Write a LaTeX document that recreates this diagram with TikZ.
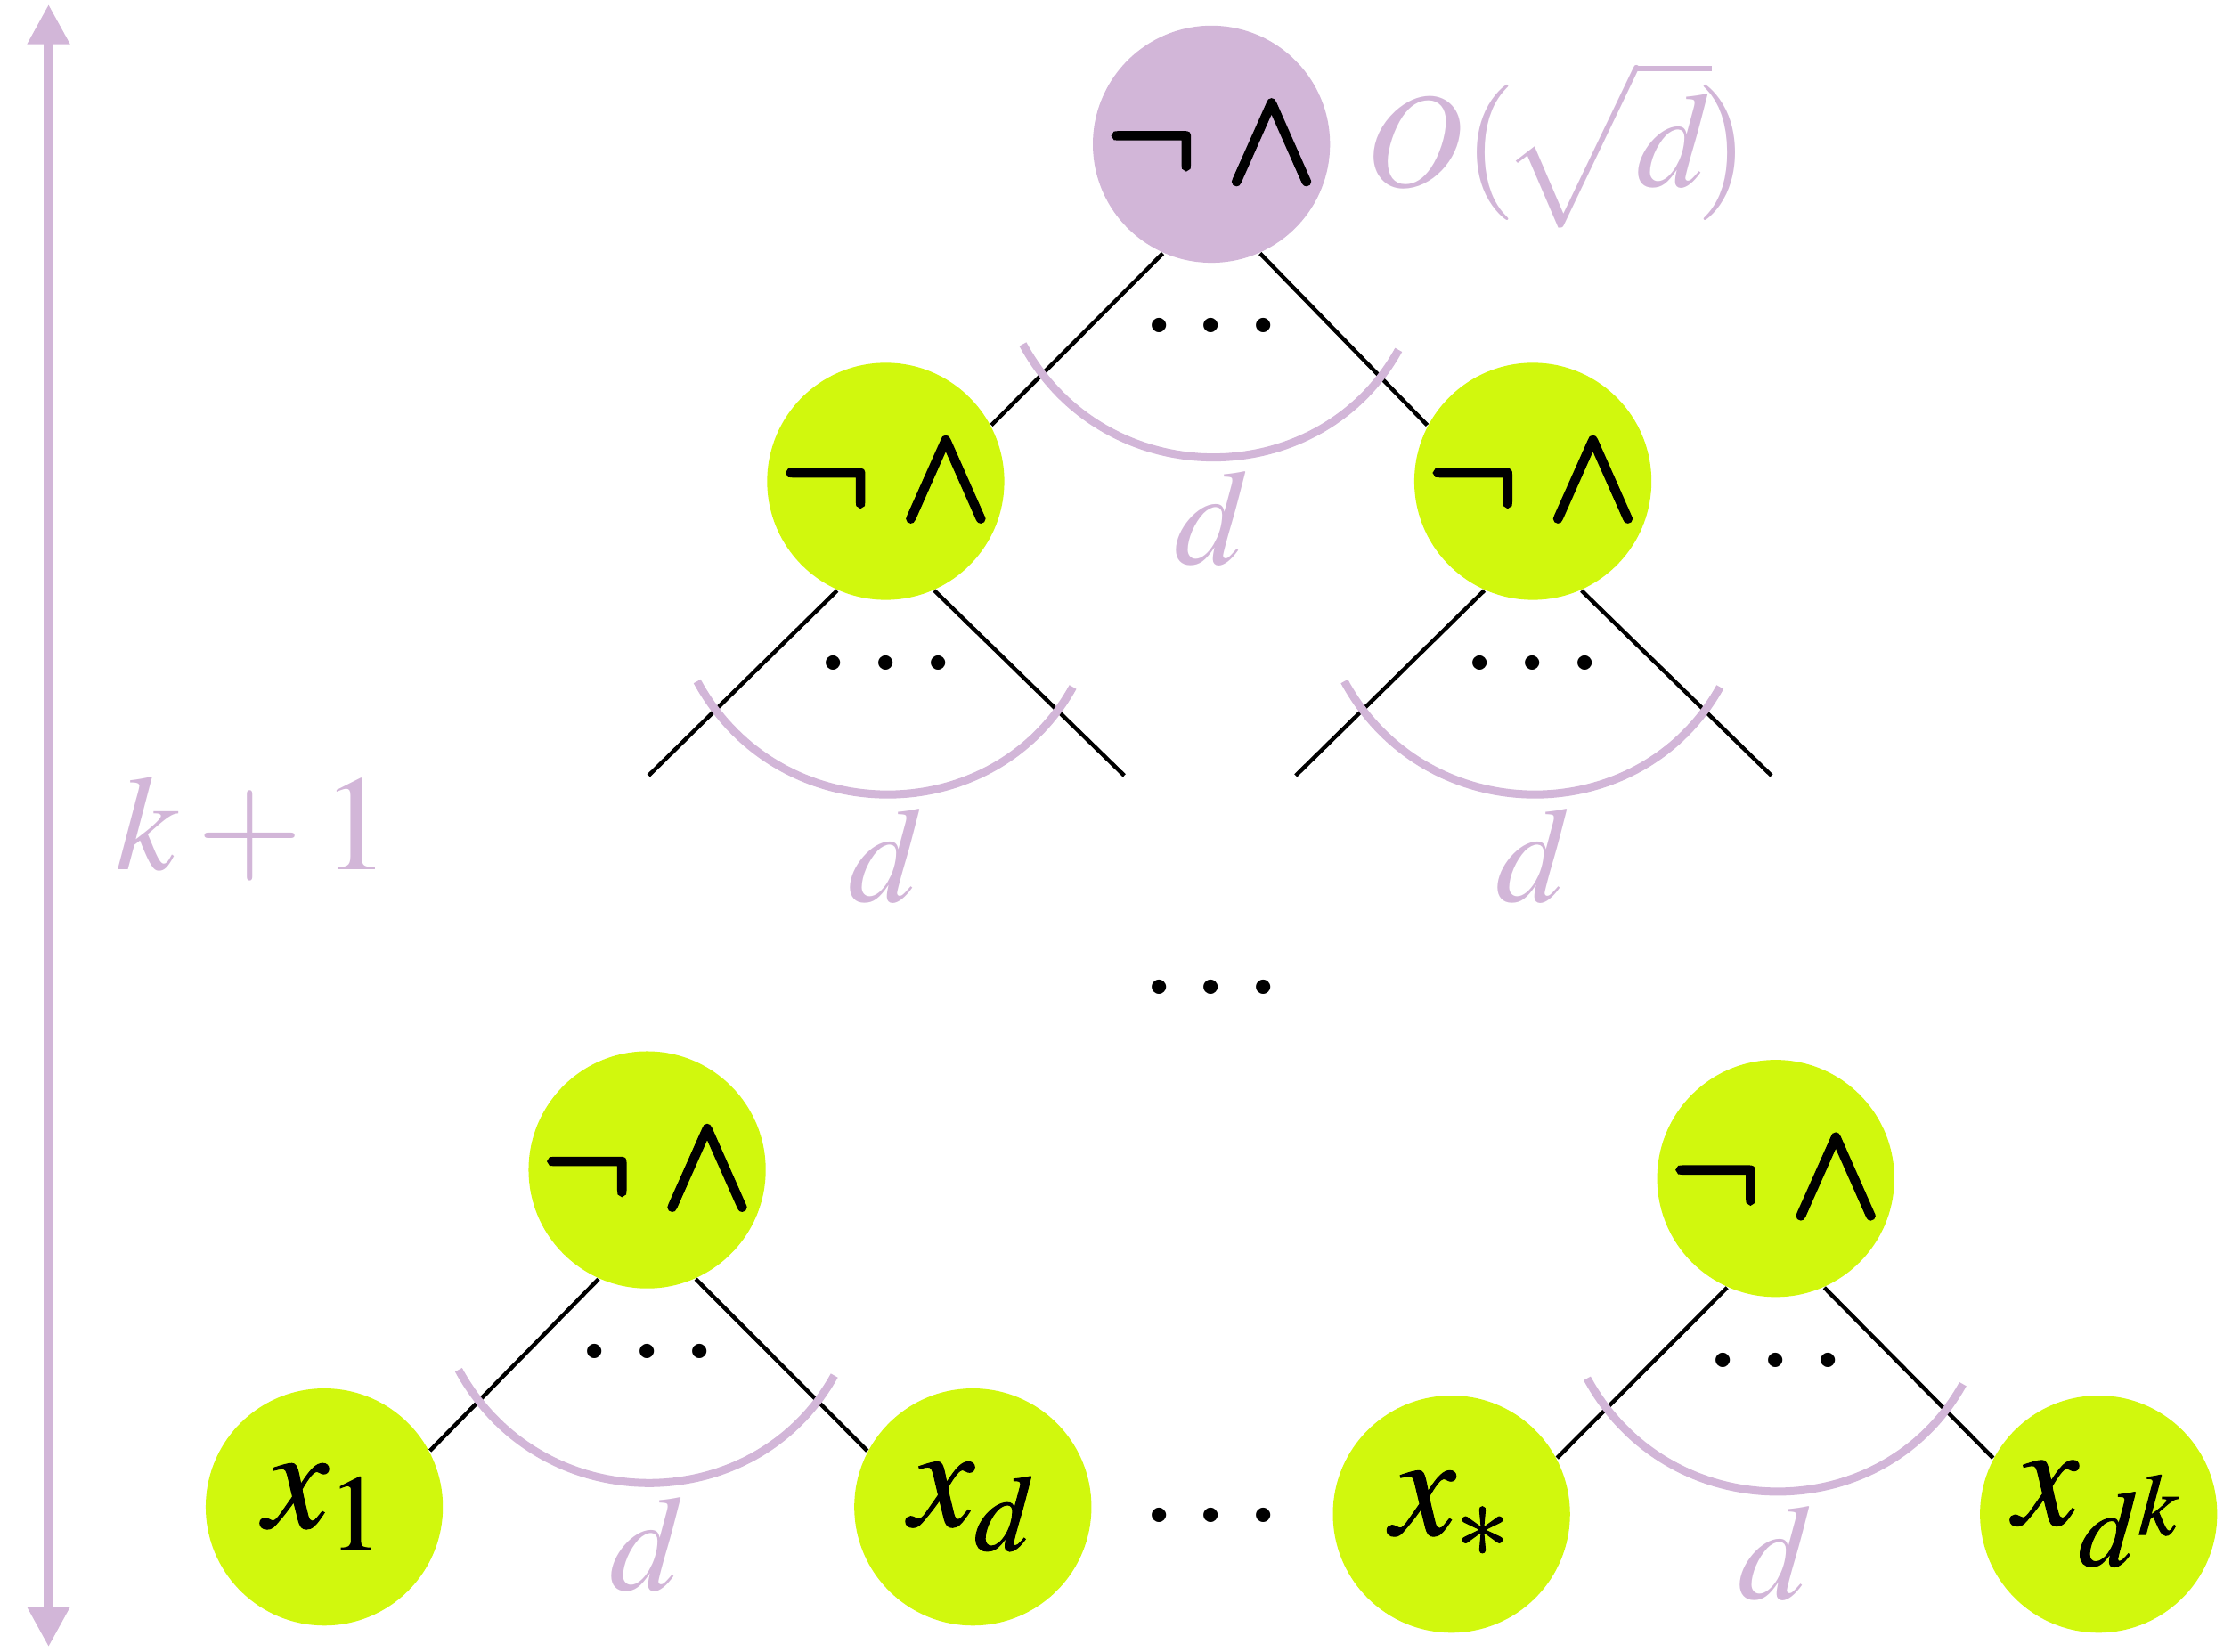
\documentclass[tikz,border=0pt]{standalone}
\usepackage{mathptmx}
\usepackage{xcolor}
\usepackage{tikz}
\usetikzlibrary{arrows.meta,positioning,calc}
\definecolor{treelilac}{HTML}{D2B6D8}
\definecolor{treelime}{HTML}{D1F80D}
\definecolor{treeink}{HTML}{000000}
% heavier strokes for the gate and input symbols
\newcommand{\heavy}[2][0.8]{\special{pdf:literal direct 2 Tr #1 w 0 j}#2\special{pdf:literal direct 0 Tr}}
\newcommand{\nand}{\heavy{$\neg\;\wedge$}}
\newcommand{\inp}[1]{\heavy[0.18]{$x_{#1}$}}

\begin{document}
\begin{tikzpicture}[font=\fontsize{27}{31}\selectfont, >=Latex,
  gate/.style={circle, fill=treelime, minimum size=16.6mm, inner sep=0pt, text=treeink},
  rootgate/.style={gate, fill=treelilac},
  leaf/.style={gate, font=\fontsize{29}{33}\selectfont},
  wire/.style={treeink, line width=0.8pt},
  fan/.style={treelilac, line width=1.6pt},
  cnt/.style={text=treelilac, inner sep=1pt},
  dots/.style={inner sep=0pt}]
  \useasboundingbox (0,0) rectangle (15.68,11.56);
  % ---------- upper levels ----------
  \node[rootgate] (r) at (8.48,10.55) {\nand};
  \node[gate] (ra) at (6.20,8.19) {\nand};
  \node[gate] (rb) at (10.73,8.19) {\nand};
  \node[cnt, right=2mm of r] (rcost) {$O(\!\sqrt{\mathstrut d}\!)$};
  \draw[wire] (r.-114) -- (ra.28);
  \draw[wire] (r.-66) -- (rb.152);
  \foreach \g in {ra,rb}
    { \coordinate (\g l) at ($(\g)+(-1.66,-2.06)$); \coordinate (\g r) at ($(\g)+(1.67,-2.06)$);
      \draw[wire] (\g.-114) -- (\g l); \draw[wire] (\g.-66) -- (\g r); }
  \node[dots] (mid) at (8.48,4.62) {$\cdots$};
  % ---------- bottom level ----------
  \node[gate] (ba) at (4.53,3.37) {\nand};
  \node[gate] (bb) at (12.43,3.31) {\nand};
  \node[leaf] (x1) at (2.27,1.01) {\inp{1}};
  \node[leaf] (xd) at (6.81,1.01) {\inp{d}};
  \node[leaf] (xs) at (10.16,0.96) {\inp{*}};
  \node[leaf] (xk) at (14.69,0.96) {\inp{d^k}};
  \draw[wire] (ba.-114) -- (x1.28);
  \draw[wire] (ba.-66) -- (xd.152);
  \draw[wire] (bb.-114) -- (xs.28);
  \draw[wire] (bb.-66) -- (xk.152);
  \node[dots] (low) at (8.48,0.92) {$\cdots$};
  % ---------- fan-in d ----------
  \foreach \g in {r,ra,rb,ba,bb}
    { \node[dots] (\g dots) at ($(\g)+(0,-1.30)$) {$\cdots$};
      \draw[fan] ($(\g)+(-1.32,-1.40)$) .. controls ($(\g)+(-0.75,-2.45)$) and ($(\g)+(0.75,-2.45)$) .. ($(\g)+(1.31,-1.44)$);
      \node[cnt] (\g fan) at ($(\g)+(0,-2.62)$) {$d$}; }
  % ---------- depth ----------
  \coordinate (dtop) at (0.34,11.53);
  \coordinate (dbot) at (0.34,0.03);
  \draw[treelilac, line width=2pt, {Triangle[width=2.8mm,length=2.8mm]}-{Triangle[width=2.8mm,length=2.8mm]}] (dtop) -- (dbot);
  \node[cnt] (depth) at (1.77,5.76) {$k+1$};
\end{tikzpicture}
\end{document}
